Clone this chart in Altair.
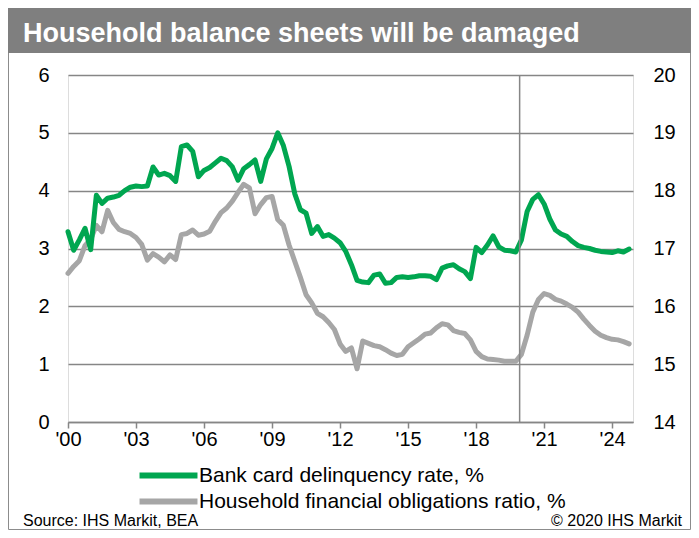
import altair as alt
import pandas as pd

# Quarterly observations, 2000Q1 .. 2024Q4 (index = quarter number)
quarter_index = list(range(100))
start_year = 2000

bank_card = [
    3.29, 2.97, 3.15, 3.35, 2.98, 3.92, 3.78, 3.87, 3.89, 3.92,
    4.00, 4.06, 4.08, 4.07, 4.08, 4.41, 4.27, 4.30, 4.26, 4.16,
    4.76, 4.79, 4.68, 4.24, 4.35, 4.40, 4.48, 4.56, 4.52, 4.41,
    4.18, 4.38, 4.45, 4.53, 4.16, 4.55, 4.73, 5.00, 4.78, 4.42,
    3.95, 3.67, 3.61, 3.26, 3.38, 3.21, 3.24, 3.18, 3.10, 2.95,
    2.72, 2.45, 2.42, 2.41, 2.54, 2.56, 2.40, 2.41, 2.50, 2.51,
    2.50, 2.51, 2.53, 2.53, 2.52, 2.46, 2.66, 2.70, 2.72, 2.65,
    2.60, 2.48, 3.02, 2.93, 3.06, 3.22, 3.03, 2.97, 2.96, 2.94,
    3.15, 3.64, 3.85, 3.93, 3.77, 3.51, 3.32, 3.25, 3.21, 3.12,
    3.05, 3.02, 3.00, 2.97, 2.95, 2.94, 2.93, 2.96, 2.94, 2.99,
]

obligations = [
    16.57, 16.69, 16.79, 17.05, 17.16, 17.40, 17.29, 17.66, 17.45, 17.33,
    17.29, 17.26, 17.19, 17.07, 16.80, 16.91, 16.85, 16.77, 16.89, 16.81,
    17.24, 17.26, 17.32, 17.23, 17.25, 17.30, 17.47, 17.62, 17.70, 17.82,
    17.97, 18.11, 18.05, 17.60, 17.76, 17.88, 17.90, 17.50, 17.40, 17.06,
    16.78, 16.50, 16.20, 16.06, 15.88, 15.82, 15.72, 15.60, 15.35, 15.22,
    15.28, 14.92, 15.40, 15.36, 15.32, 15.30, 15.25, 15.19, 15.15, 15.17,
    15.30, 15.37, 15.44, 15.52, 15.54, 15.63, 15.70, 15.68, 15.58, 15.55,
    15.53, 15.42, 15.22, 15.13, 15.09, 15.08, 15.07, 15.05, 15.05, 15.05,
    15.17, 15.50, 15.90, 16.12, 16.22, 16.19, 16.12, 16.09, 16.04, 15.98,
    15.90, 15.78, 15.67, 15.57, 15.50, 15.46, 15.43, 15.42, 15.39, 15.35,
]

series_names = ["Bank card delinquency rate, %", "Household financial obligations ratio, %"]
series_colors = ["#00A650", "#A6A6A6"]
x_ticks = [2000, 2003, 2006, 2009, 2012, 2015, 2018, 2021, 2024]
left_ticks = [0, 1, 2, 3, 4, 5, 6]
right_ticks = [14, 15, 16, 17, 18, 19, 20]
marker_year = [2019.92]

title_text = "Household  balance sheets will be damaged"
source_text = "Source:  IHS Markit, BEA"
copyright_text = "\u00a9 2020  IHS Markit"

t = [start_year + q / 4 for q in quarter_index]
df = pd.DataFrame({
    "t": t + t,
    "value": bank_card + obligations,
    "series": [series_names[0]] * len(t) + [series_names[1]] * len(t),
})

FONT = "Liberation Sans"
GRID = "#868686"

x_enc = alt.X(
    "t:Q",
    scale=alt.Scale(domain=[2000, 2024.92], nice=False, zero=False),
    axis=alt.Axis(
        values=x_ticks, labelExpr="\"'\" + slice(toString(datum.value), 2)",
        title=None, grid=False, domain=True, domainColor=GRID, domainWidth=1.5,
        ticks=True, tickColor=GRID, tickWidth=1.5, tickSize=6, labelFlush=False,
        labelFont=FONT, labelFontSize=20, labelColor="black", labelPadding=1,
    ),
)

# long horizontal stroke symbol (path extends beyond the unit box so the
# legend rows stay compact)
LINE_SYMBOL = "M-4,0L4,0"

color_enc = alt.Color(
    "series:N",
    scale=alt.Scale(domain=series_names, range=series_colors),
    legend=alt.Legend(
        title=None, orient="none", legendX=90, legendY=390, direction="vertical",
        symbolType=LINE_SYMBOL, symbolStrokeWidth=6, symbolSize=210,
        labelFont=FONT, labelFontSize=21, labelColor="black", labelLimit=600,
        labelOffset=20, rowPadding=1, padding=0, offset=0,
    ),
)

base = alt.Chart(df)

gray_line = base.transform_filter(alt.datum.series == series_names[1]).mark_line(
    strokeWidth=5, strokeJoin="round", strokeCap="round"
).encode(
    x=x_enc,
    y=alt.Y(
        "value:Q",
        scale=alt.Scale(domain=[14, 20], nice=False, zero=False),
        axis=alt.Axis(
            orient="right", values=right_ticks, title=None, grid=False, domain=False,
            ticks=False, labelPadding=20, labelFont=FONT, labelFontSize=20,
            labelColor="black",
        ),
    ),
    color=color_enc,
)

green_line = base.transform_filter(alt.datum.series == series_names[0]).mark_line(
    strokeWidth=5, strokeJoin="round", strokeCap="round"
).encode(
    x=x_enc,
    y=alt.Y(
        "value:Q",
        scale=alt.Scale(domain=[0, 6], nice=False, zero=False),
        axis=alt.Axis(
            orient="left", values=left_ticks, title=None, grid=True, gridColor=GRID,
            gridWidth=1.5, domain=False, ticks=False, labelPadding=19,
            labelFont=FONT, labelFontSize=20, labelColor="black",
        ),
    ),
    color=color_enc,
)

vline = alt.Chart(pd.DataFrame({"t": marker_year})).mark_rule(
    color=GRID, strokeWidth=1.5
).encode(x=alt.X("t:Q"))

deco = alt.Chart(pd.DataFrame({"a": [0]}))

border = deco.mark_rect(filled=False, stroke="#8C8C8C", strokeWidth=1).encode(
    x=alt.value(-59.5), x2=alt.value(622.5), y=alt.value(-30), y2=alt.value(454.5)
)
title_bar = deco.mark_rect(fill="#7F7F7F").encode(
    x=alt.value(-60), x2=alt.value(623), y=alt.value(-67), y2=alt.value(-22)
)
title = deco.mark_text(
    text=title_text, font=FONT, fontSize=27, fontWeight="bold", color="white",
    align="left", baseline="alphabetic",
).encode(x=alt.value(-45), y=alt.value(-33))
source = deco.mark_text(
    text=source_text, font=FONT, fontSize=16, color="black",
    align="left", baseline="alphabetic",
).encode(x=alt.value(-45), y=alt.value(451))
copyright = deco.mark_text(
    text=copyright_text, font=FONT, fontSize=16, color="black",
    align="right", baseline="alphabetic",
).encode(x=alt.value(614), y=alt.value(451))

chart = alt.layer(
    border, title_bar, gray_line, green_line, vline, title, source, copyright
).resolve_scale(y="independent").properties(
    width=565, height=347,
    autosize=alt.AutoSizeParams(type="none"),
    padding={"left": 60, "top": 67, "right": 58, "bottom": 108},
).configure_view(stroke=None).configure(background="white")

chart.save("out.html", embed_options={"renderer": "svg", "actions": False})
